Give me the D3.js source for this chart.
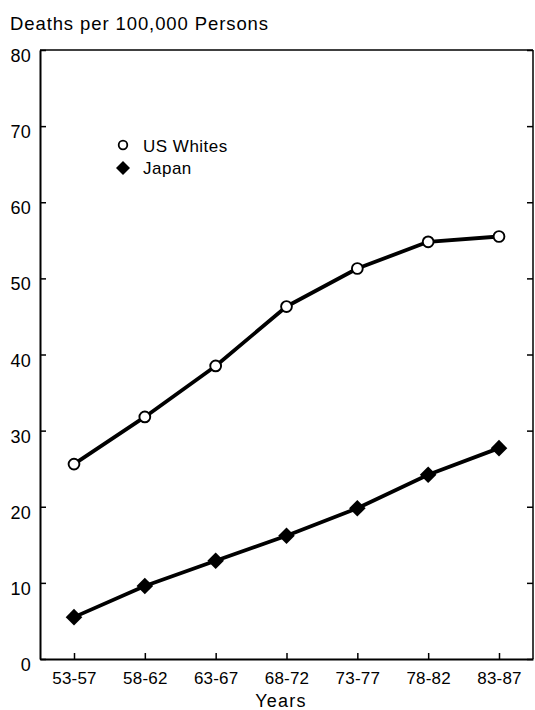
<!DOCTYPE html>
<html>
<head>
<meta charset="utf-8">
<script src="https://cdn.jsdelivr.net/npm/d3@7"></script>
<style>
  html, body { margin: 0; padding: 0; background: #fff; }
  svg { display: block; font-family: "Liberation Sans", Arial, Helvetica, sans-serif; }
</style>
</head>
<body>
<svg id="chart" width="535" height="710"></svg>
<script>
// Five-year periods on the x axis
const periods = ["53-57", "58-62", "63-67", "68-72", "73-77", "78-82", "83-87"];
// Death rates per 100,000 persons
const usWhites = [25.6, 31.8, 38.5, 46.3, 51.3, 54.8, 55.5];
const japan = [5.5, 9.6, 12.9, 16.2, 19.8, 24.2, 27.7];
const yTicks = [0, 10, 20, 30, 40, 50, 60, 70, 80];
const seriesNames = ["US Whites", "Japan"];

const svg = d3.select("#chart");
const plotLeft = 40, plotRight = 533, plotTop = 50, plotBottom = 659;
const fontFamily = "'Liberation Sans', Arial, Helvetica, sans-serif";

const x = d3.scalePoint().domain(periods).range([plotLeft, plotRight]).padding(0.48);
const y = d3.scaleLinear().domain([0, 80]).range([plotBottom, plotTop]);

// Frame: top and right edges
svg.append("line").attr("x1", plotLeft).attr("x2", plotRight).attr("y1", plotTop).attr("y2", plotTop)
  .attr("stroke", "#000").attr("stroke-width", 1.5);
svg.append("line").attr("x1", plotRight).attr("x2", plotRight).attr("y1", plotTop).attr("y2", plotBottom)
  .attr("stroke", "#000").attr("stroke-width", 1.5);

// Right-side inward ticks
svg.append("g").attr("transform", `translate(${plotRight},0)`)
  .call(d3.axisRight(y).tickValues(yTicks).tickSize(-6).tickFormat(""))
  .call(g => g.select(".domain").remove())
  .selectAll("line").attr("stroke", "#000").attr("stroke-width", 1.5);

// Left axis
const yAxis = svg.append("g").attr("transform", `translate(${plotLeft},0)`)
  .call(d3.axisLeft(y).tickValues(yTicks).tickSize(-6).tickPadding(9).tickSizeOuter(0));
yAxis.select(".domain").attr("stroke-width", 2);
yAxis.selectAll(".tick line").attr("stroke-width", 1.5);
yAxis.selectAll("text").attr("font-size", 18).attr("fill", "#000").attr("dy", "0.64em")
  .attr("letter-spacing", 0.3).style("font-family", fontFamily);

// Bottom axis
const xAxis = svg.append("g").attr("transform", `translate(0,${plotBottom})`)
  .call(d3.axisBottom(x).tickSize(-6).tickPadding(13).tickSizeOuter(0));
xAxis.select(".domain").attr("stroke-width", 2);
xAxis.selectAll(".tick line").attr("stroke-width", 1.5);
xAxis.selectAll("text").attr("font-size", 17).attr("fill", "#000")
  .attr("letter-spacing", 0.2).style("font-family", fontFamily);

// Axis titles
svg.append("text").attr("x", 10).attr("y", 30).attr("font-size", 18.5)
  .attr("letter-spacing", 0.9).text("Deaths per 100,000 Persons");
svg.append("text").attr("x", 281).attr("y", 707).attr("font-size", 18)
  .attr("letter-spacing", 1.2).attr("text-anchor", "middle").text("Years");

const line = d3.line().x((d, i) => x(periods[i])).y(d => y(d));

// Lines
[usWhites, japan].forEach(vals => {
  svg.append("path").datum(vals).attr("d", line)
    .attr("fill", "none").attr("stroke", "#000").attr("stroke-width", 3.8)
    .attr("stroke-linejoin", "round");
});

const diamond = d3.symbol().type(d3.symbolDiamond2).size(175);

// US Whites markers: open circles
svg.append("g").selectAll("circle").data(usWhites).join("circle")
  .attr("cx", (d, i) => x(periods[i])).attr("cy", d => y(d)).attr("r", 5.4)
  .attr("fill", "#fff").attr("stroke", "#000").attr("stroke-width", 1.9);

// Japan markers: filled diamonds
svg.append("g").selectAll("path").data(japan).join("path")
  .attr("d", diamond)
  .attr("transform", (d, i) => `translate(${x(periods[i])},${y(d)})`)
  .attr("fill", "#000");

// Legend
const legend = svg.append("g");
legend.append("circle").attr("cx", 123).attr("cy", 145).attr("r", 4.3)
  .attr("fill", "#fff").attr("stroke", "#000").attr("stroke-width", 1.8);
legend.append("path").attr("d", d3.symbol().type(d3.symbolDiamond2).size(125))
  .attr("transform", "translate(123,168)").attr("fill", "#000");
legend.append("text").attr("x", 143).attr("y", 152).attr("font-size", 17)
  .attr("letter-spacing", 0.5).text(seriesNames[0]);
legend.append("text").attr("x", 143).attr("y", 174).attr("font-size", 17)
  .attr("letter-spacing", 0.5).text(seriesNames[1]);
</script>
</body>
</html>
